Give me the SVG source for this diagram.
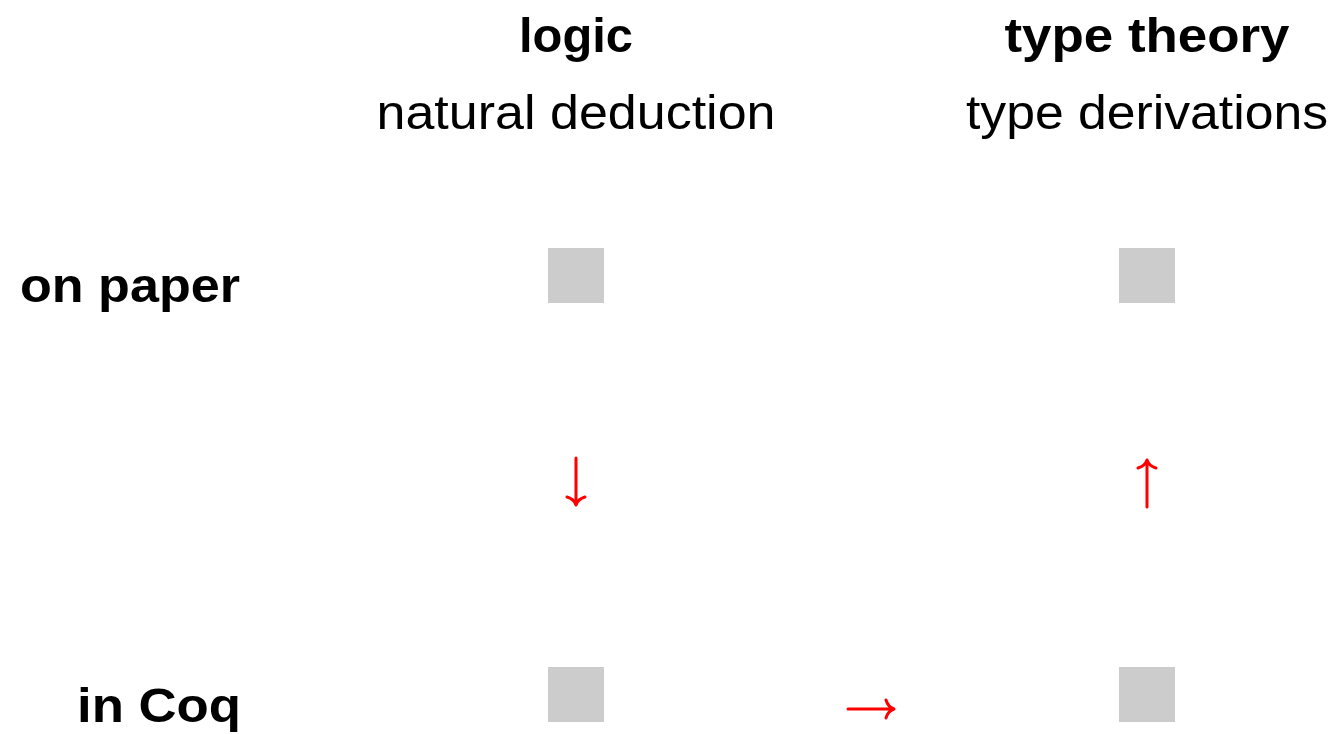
<svg xmlns="http://www.w3.org/2000/svg" width="1339" height="734" viewBox="0 0 1339 734">
<style>
text{font-family:"Liberation Sans","DejaVu Sans",sans-serif;fill:#000}
.h{font-weight:bold;font-size:48px;text-anchor:middle}
.s{font-size:48px;text-anchor:middle}
.r{font-weight:bold;font-size:48px;text-anchor:end}
.box{fill:#cccccc}
.arr{stroke:#ff0000;stroke-width:3;fill:none;stroke-linecap:round;stroke-linejoin:round}
</style>
<rect width="1339" height="734" fill="#fff"/>
<g id="col-logic"><text class="h" x="576" y="52" textLength="114" lengthAdjust="spacingAndGlyphs">logic</text><text class="s" x="576" y="129" textLength="399" lengthAdjust="spacingAndGlyphs">natural deduction</text></g>
<g id="col-type"><text class="h" x="1147" y="52" textLength="285" lengthAdjust="spacingAndGlyphs">type theory</text><text class="s" x="1147" y="129" textLength="362" lengthAdjust="spacingAndGlyphs">type derivations</text></g>
<g id="row-paper"><text class="r" x="240" y="302" textLength="220" lengthAdjust="spacingAndGlyphs">on paper</text></g>
<g id="row-coq"><text class="r" x="241" y="722" textLength="164" lengthAdjust="spacingAndGlyphs">in Coq</text></g>
<g id="n-paper-logic"><rect class="box" x="548" y="248" width="56" height="55"/></g>
<g id="n-paper-type"><rect class="box" x="1119" y="248" width="56" height="55"/></g>
<g id="n-coq-logic"><rect class="box" x="548" y="667" width="56" height="55"/></g>
<g id="n-coq-type"><rect class="box" x="1119" y="667" width="56" height="55"/></g>
<g id="connectors">
<path class="arr" d="M576 458V505M567 497Q574 499 576 505Q578 499 585 497"/>
<path class="arr" d="M1147 507V460M1138 468Q1145 466 1147 460Q1149 466 1156 468"/>
<path class="arr" d="M848 709H894M886 700Q888 707 894 709Q888 711 886 718"/>
</g>
</svg>
